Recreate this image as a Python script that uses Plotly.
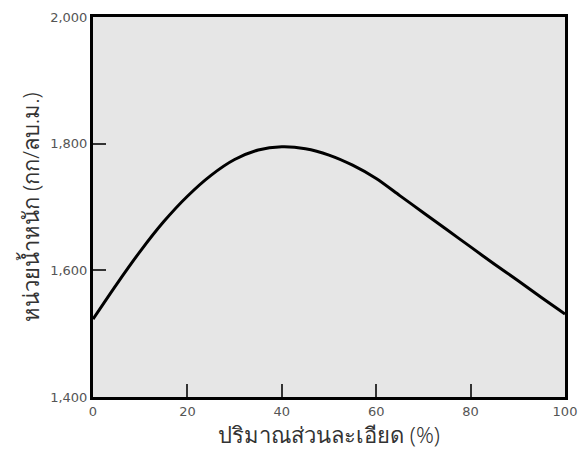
import plotly.graph_objects as go

fines_pct = [0, 5, 10, 15, 20, 25, 30, 35, 40, 45, 50, 55, 60, 65, 70, 75, 80, 85, 90, 95, 100]
unit_weight = [1523, 1578, 1630, 1677, 1717, 1750, 1775, 1790, 1795, 1792, 1782, 1766, 1745, 1718,
               1691, 1664, 1637, 1610, 1584, 1557, 1531]

x_ticks = [0, 20, 40, 60, 80, 100]
y_ticks = [1400, 1600, 1800, 2000]

fig = go.Figure()
fig.add_trace(go.Scatter(
    x=fines_pct, y=unit_weight, mode="lines",
    line=dict(color="black", width=3, shape="spline", smoothing=0.8),
    hoverinfo="skip", showlegend=False,
))

axis_common = dict(
    showline=True, linecolor="black", linewidth=3, mirror=True,
    showgrid=False, zeroline=False, automargin=False,
    ticks="inside", ticklen=13, tickwidth=1.5, tickcolor="#333",
    tickfont=dict(family="DejaVu Sans", size=13, color="#555"),
)

title_font = dict(family="Noto Sans, DejaVu Sans", size=22, color="#333", weight=300)

fig.update_layout(
    width=582, height=452,
    margin=dict(l=93, r=17, t=17, b=55),
    paper_bgcolor="white", plot_bgcolor="#e6e6e6",
    xaxis=dict(range=[0, 100], tickvals=x_ticks,
               title=dict(text="ปริมาณส่วนละเอียด (%)", standoff=10, font=title_font),
               **axis_common),
    yaxis=dict(range=[1400, 2000], tickvals=y_ticks, tickformat=",",
               title=dict(text="หน่วยน้ำหนัก (กก/ลบ.ม.)", standoff=5, font=title_font),
               **axis_common),
)

fig.write_html("out.html", config={"displayModeBar": False},
               post_script="document.body.style.margin='0';document.body.style.overflow='hidden';")
